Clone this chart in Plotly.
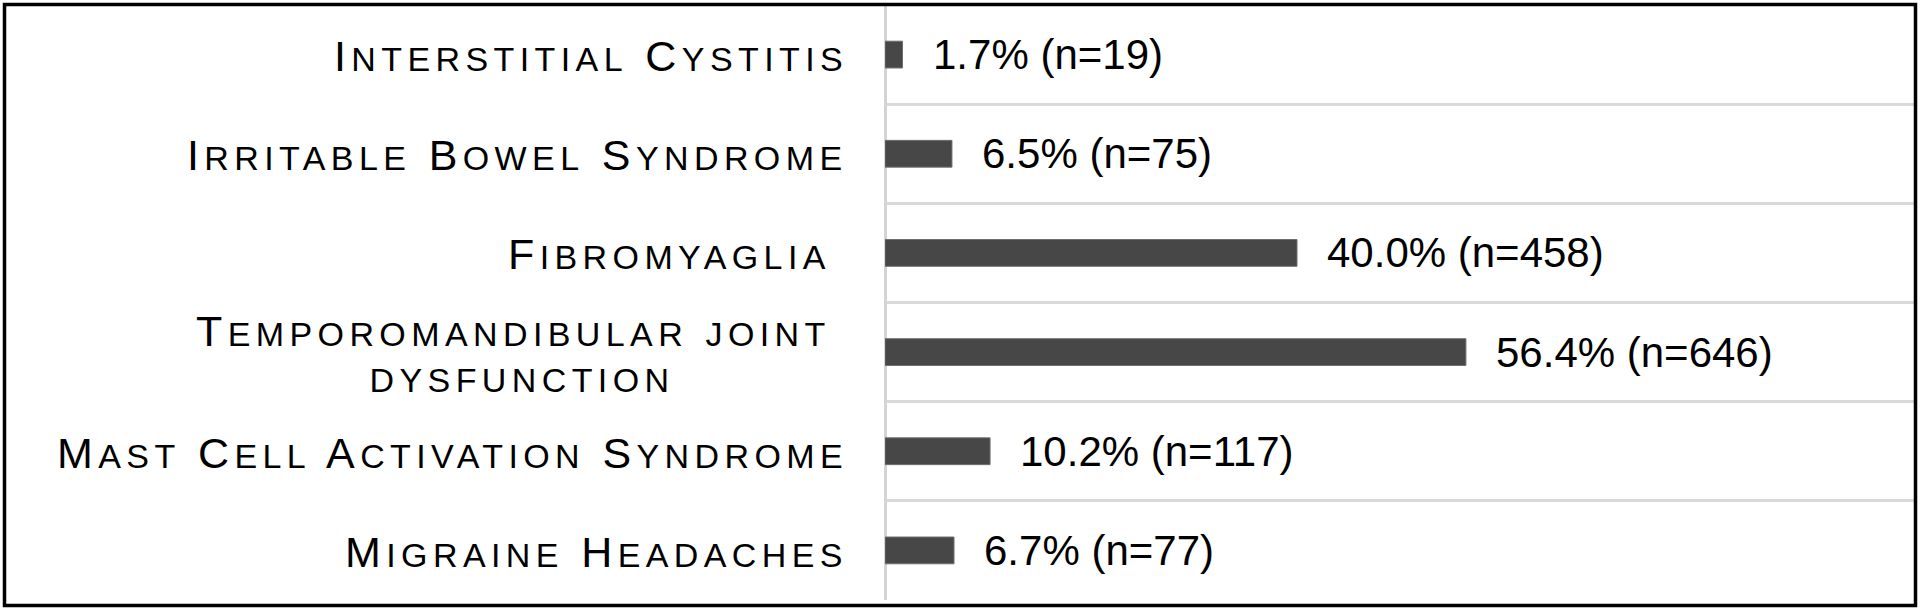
import re
import plotly.graph_objects as go

# conditions, top to bottom
conditions = [
    "Interstitial Cystitis",
    "Irritable Bowel Syndrome",
    "Fibromyaglia\u00a0",
    "Temporomandibular joint\u00a0<br>dysfunction",
    "Mast Cell Activation Syndrome",
    "Migraine Headaches",
]
percent = [1.7, 6.5, 40.0, 56.4, 10.2, 6.7]
counts = [19, 75, 458, 646, 117, 77]

value_labels = [f"{p:.1f}% (n={n})" for p, n in zip(percent, counts)]

W, H = 1920, 610
ML, MR, MT, MB = 885, 5, 5, 10
pw, ph = W - ML - MR, H - MT - MB

fig = go.Figure()
fig.add_trace(go.Bar(
    x=percent,
    y=conditions,
    orientation="h",
    marker=dict(color="#474747", line=dict(color="#6e6e6e", width=1)),
    hoverinfo="skip",
))

SPACING = "letter-spacing:5.4px"


def small_caps(label):
    # lowercase runs get a bigger size so the synthesized small caps match the original
    out = []
    for line in label.split("<br>"):
        parts = re.findall(r"[a-z]+|[^a-z]+", line)
        spans = []
        for part in parts:
            size = 48 if part.islower() else 43
            spans.append(f'<span style="font-size:{size}px;{SPACING}">{part}</span>')
        out.append("".join(spans))
    return "<br>".join(out)


for cond in conditions:
    # base size only sets the line spacing of the wrapped label
    fig.add_annotation(
        x=0, xref="paper", y=cond, yref="y",
        text=small_caps(cond), showarrow=False,
        xanchor="right", yanchor="middle", align="center", xshift=-35,
        font=dict(family="Liberation Sans, Arial", size=35, color="black", variant="small-caps"),
    )

for cond, p, lab in zip(conditions, percent, value_labels):
    fig.add_annotation(
        x=p, xref="x", y=cond, yref="y",
        text=lab, showarrow=False,
        xanchor="left", yanchor="middle", xshift=28,
        font=dict(family="Liberation Sans, Arial", size=42, color="black"),
    )

# black frame around the whole picture
fig.add_shape(
    type="rect", xref="paper", yref="paper",
    x0=(4.5 - ML) / pw, x1=(W - 4.5 - ML) / pw,
    y0=-(H - 4.5 - (H - MB)) / ph, y1=1 + (MT - 4.5) / ph,
    line=dict(color="black", width=3.5), layer="above",
)

fig.update_layout(
    width=W, height=H,
    margin=dict(l=ML, r=MR, t=MT, b=MB),
    paper_bgcolor="white", plot_bgcolor="white",
    bargap=0.73, showlegend=False,
    xaxis=dict(range=[0, 100], showgrid=False, showticklabels=False, ticks="",
               zeroline=True, zerolinecolor="#d4d4d4", zerolinewidth=3, showline=False),
    yaxis=dict(autorange="reversed", tickson="boundaries", showgrid=True,
               gridcolor="#d9d9d9", gridwidth=3, showticklabels=False, ticks="",
               zeroline=False, showline=False),
)

fig.write_html("out.html", config={"displayModeBar": False},
               post_script="document.body.style.margin='0';")
